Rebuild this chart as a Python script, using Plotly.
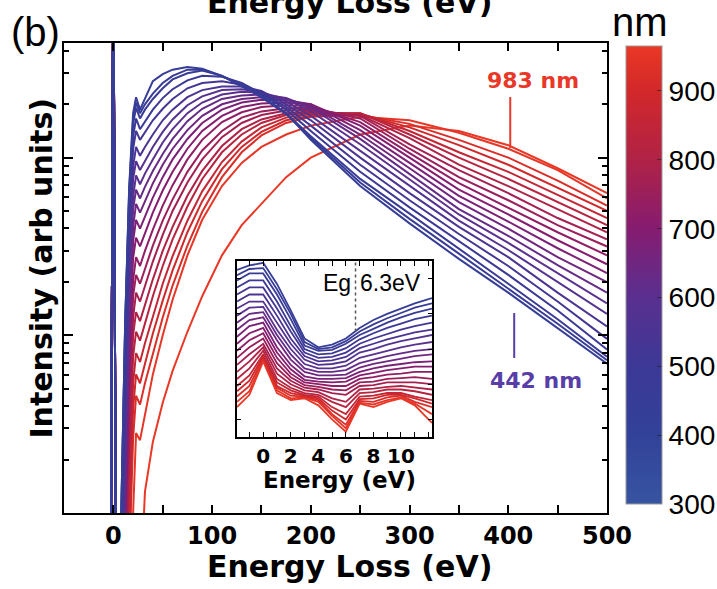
import plotly.graph_objects as go
from plotly.colors import sample_colorscale

# ---------------- data ----------------
wavelengths_nm = [442, 458, 474, 500, 525, 550, 575, 600, 625, 650, 675,
                  700, 725, 750, 775, 800, 825, 860, 895, 925, 955, 983]

# main panel: energy-loss grid (eV) and log10 intensity (arb units) per wavelength
zlp_energy_ev = [-3, 0, 3]
zlp_log_intensity = [-2.0, 2.3, -2.0]
energy_loss_ev = [8, 12, 16, 20, 23, 27, 32, 40, 50, 60, 75, 90, 110, 130,
                  150, 175, 200, 250, 300, 350, 400, 450, 500]

log_int_442 = [-1.0, 0.08, 0.83, 1.25, 1.34, 1.27, 1.33, 1.43, 1.47, 1.495, 1.51, 1.50, 1.46, 1.40, 1.35, 1.25, 1.10, 0.84, 0.63, 0.43, 0.24, 0.04, -0.16]
log_int_458 = [-1.0, 0.07, 0.81, 1.22, 1.31, 1.25, 1.30, 1.36, 1.42, 1.46, 1.495, 1.495, 1.46, 1.405, 1.34, 1.245, 1.11, 0.86, 0.655, 0.46, 0.265, 0.065, -0.14]
log_int_474 = [-1.0, 0.06, 0.78, 1.19, 1.28, 1.22, 1.27, 1.33, 1.39, 1.44, 1.475, 1.49, 1.46, 1.41, 1.34, 1.25, 1.12, 0.88, 0.685, 0.49, 0.29, 0.09, -0.12]
log_int_500 = [-1.2, -0.15, 0.67, 1.12, 1.22, 1.16, 1.205, 1.27, 1.335, 1.385, 1.435, 1.46, 1.455, 1.42, 1.36, 1.27, 1.15, 0.92, 0.72, 0.53, 0.34, 0.14, -0.08]
log_int_525 = [-1.2, -0.18, 0.61, 1.05, 1.15, 1.10, 1.145, 1.21, 1.275, 1.33, 1.39, 1.42, 1.43, 1.41, 1.365, 1.285, 1.18, 0.96, 0.76, 0.57, 0.39, 0.19, -0.02]
log_int_550 = [-1.4, -0.41, 0.46, 0.95, 1.06, 1.01, 1.06, 1.13, 1.21, 1.27, 1.34, 1.38, 1.40, 1.40, 1.375, 1.30, 1.21, 1.00, 0.80, 0.61, 0.44, 0.24, 0.05]
log_int_575 = [-1.4, -0.44, 0.41, 0.88, 0.98, 0.93, 0.98, 1.06, 1.145, 1.215, 1.295, 1.345, 1.38, 1.385, 1.37, 1.315, 1.235, 1.04, 0.84, 0.645, 0.48, 0.30, 0.12]
log_int_600 = [-1.6, -0.70, 0.25, 0.78, 0.90, 0.85, 0.91, 0.99, 1.085, 1.16, 1.25, 1.31, 1.355, 1.37, 1.365, 1.33, 1.26, 1.075, 0.875, 0.68, 0.52, 0.35, 0.18]
log_int_625 = [-1.6, -0.71, 0.20, 0.71, 0.82, 0.77, 0.835, 0.925, 1.02, 1.105, 1.205, 1.275, 1.33, 1.35, 1.355, 1.335, 1.28, 1.105, 0.905, 0.71, 0.56, 0.395, 0.24]
log_int_650 = [-1.8, -1.0, 0.035, 0.61, 0.74, 0.69, 0.755, 0.855, 0.96, 1.05, 1.155, 1.235, 1.30, 1.33, 1.34, 1.33, 1.29, 1.13, 0.94, 0.75, 0.60, 0.44, 0.30]
log_int_675 = [-1.8, -1.0, -0.02, 0.53, 0.65, 0.60, 0.67, 0.775, 0.89, 0.99, 1.105, 1.195, 1.27, 1.31, 1.325, 1.323, 1.30, 1.155, 0.97, 0.785, 0.64, 0.49, 0.35]
log_int_700 = [-1.8, -1.0, -0.08, 0.435, 0.55, 0.50, 0.575, 0.69, 0.815, 0.92, 1.05, 1.15, 1.235, 1.285, 1.305, 1.31, 1.30, 1.18, 1.00, 0.82, 0.68, 0.535, 0.40]
log_int_725 = [-2.0, -1.2, -0.27, 0.31, 0.44, 0.39, 0.475, 0.595, 0.73, 0.845, 0.99, 1.10, 1.20, 1.255, 1.285, 1.295, 1.29, 1.20, 1.025, 0.856, 0.72, 0.58, 0.45]
log_int_750 = [-2.0, -1.2, -0.32, 0.22, 0.34, 0.29, 0.375, 0.505, 0.645, 0.765, 0.92, 1.04, 1.15, 1.225, 1.26, 1.278, 1.28, 1.22, 1.05, 0.89, 0.76, 0.62, 0.50]
log_int_775 = [-2.0, -1.4, -0.51, 0.10, 0.24, 0.19, 0.28, 0.415, 0.565, 0.70, 0.86, 0.99, 1.115, 1.195, 1.24, 1.265, 1.27, 1.235, 1.075, 0.93, 0.80, 0.66, 0.54]
log_int_800 = [-2.0, -1.4, -0.55, 0.0, 0.13, 0.08, 0.175, 0.315, 0.475, 0.61, 0.785, 0.925, 1.065, 1.16, 1.215, 1.25, 1.26, 1.24, 1.11, 0.96, 0.84, 0.71, 0.58]
log_int_825 = [-2.0, -1.6, -0.76, -0.12, 0.02, -0.03, 0.07, 0.22, 0.39, 0.54, 0.725, 0.88, 1.03, 1.13, 1.195, 1.24, 1.253, 1.25, 1.13, 1.00, 0.88, 0.75, 0.62]
log_int_860 = [-2.0, -1.8, -1.0, -0.27, -0.10, -0.15, -0.045, 0.11, 0.29, 0.445, 0.645, 0.81, 0.975, 1.09, 1.17, 1.225, 1.245, 1.25, 1.15, 1.03, 0.92, 0.79, 0.66]
log_int_895 = [-2.0, -1.8, -1.15, -0.415, -0.22, -0.27, -0.16, 0.01, 0.195, 0.365, 0.58, 0.755, 0.935, 1.06, 1.145, 1.21, 1.235, 1.245, 1.17, 1.07, 0.96, 0.83, 0.70]
log_int_925 = [-2.0, -2.0, -1.3, -0.58, -0.34, -0.39, -0.27, -0.10, 0.10, 0.28, 0.505, 0.695, 0.89, 1.03, 1.125, 1.195, 1.23, 1.24, 1.19, 1.10, 1.00, 0.87, 0.73]
log_int_955 = [-2.0, -2.0, -1.6, -1.0, -0.55, -0.59, -0.45, -0.22, 0.0, 0.20, 0.45, 0.65, 0.84, 0.97, 1.06, 1.13, 1.18, 1.23, 1.21, 1.14, 1.05, 0.93, 0.77]
log_int_983 = [-2.5, -2.5, -2.5, -2.5, -2.5, -1.5, -0.88, -0.60, -0.38, -0.20, 0.02, 0.22, 0.45, 0.62, 0.74, 0.89, 1.00, 1.13, 1.18, 1.15, 1.07, 0.94, 0.80]

# inset: low-loss region, energy (eV) and stacked intensity (arb units)
inset_energy_ev = [-1.9, -1, 0, 1, 2, 3, 4, 5, 6, 7, 8, 9, 10, 11, 12.25]

inset_442 = [0.95, 0.975, 0.99, 0.87, 0.72, 0.56, 0.51, 0.525, 0.56, 0.62, 0.665, 0.70, 0.73, 0.76, 0.79]
inset_458 = [0.92, 0.955, 0.96, 0.84, 0.70, 0.54, 0.50, 0.51, 0.545, 0.60, 0.64, 0.675, 0.705, 0.735, 0.76]
inset_474 = [0.89, 0.93, 0.93, 0.81, 0.67, 0.52, 0.49, 0.495, 0.53, 0.58, 0.615, 0.65, 0.68, 0.705, 0.73]
inset_500 = [0.85, 0.89, 0.89, 0.77, 0.63, 0.50, 0.47, 0.475, 0.505, 0.555, 0.59, 0.62, 0.645, 0.67, 0.69]
inset_525 = [0.81, 0.85, 0.85, 0.73, 0.60, 0.48, 0.45, 0.455, 0.48, 0.53, 0.56, 0.585, 0.61, 0.63, 0.65]
inset_550 = [0.77, 0.81, 0.81, 0.69, 0.56, 0.46, 0.43, 0.435, 0.455, 0.505, 0.53, 0.555, 0.575, 0.595, 0.61]
inset_575 = [0.73, 0.77, 0.77, 0.65, 0.53, 0.44, 0.41, 0.415, 0.43, 0.48, 0.50, 0.525, 0.545, 0.56, 0.58]
inset_600 = [0.69, 0.735, 0.74, 0.61, 0.50, 0.415, 0.39, 0.39, 0.405, 0.45, 0.47, 0.49, 0.51, 0.525, 0.54]
inset_625 = [0.65, 0.70, 0.71, 0.58, 0.47, 0.39, 0.37, 0.37, 0.38, 0.42, 0.44, 0.46, 0.475, 0.49, 0.50]
inset_650 = [0.61, 0.665, 0.68, 0.55, 0.44, 0.37, 0.35, 0.35, 0.355, 0.395, 0.415, 0.43, 0.445, 0.46, 0.47]
inset_675 = [0.57, 0.63, 0.65, 0.51, 0.41, 0.345, 0.33, 0.33, 0.335, 0.37, 0.39, 0.405, 0.415, 0.425, 0.43]
inset_700 = [0.53, 0.59, 0.62, 0.48, 0.385, 0.325, 0.315, 0.31, 0.315, 0.35, 0.365, 0.38, 0.39, 0.40, 0.40]
inset_725 = [0.49, 0.55, 0.59, 0.45, 0.36, 0.31, 0.30, 0.29, 0.29, 0.33, 0.34, 0.355, 0.36, 0.37, 0.37]
inset_750 = [0.45, 0.51, 0.56, 0.42, 0.34, 0.295, 0.285, 0.27, 0.265, 0.31, 0.315, 0.33, 0.335, 0.34, 0.33]
inset_775 = [0.41, 0.47, 0.53, 0.39, 0.32, 0.28, 0.27, 0.25, 0.24, 0.29, 0.295, 0.31, 0.31, 0.31, 0.30]
inset_800 = [0.37, 0.43, 0.51, 0.36, 0.30, 0.265, 0.255, 0.22, 0.20, 0.27, 0.275, 0.285, 0.29, 0.28, 0.27]
inset_825 = [0.33, 0.39, 0.49, 0.33, 0.28, 0.25, 0.24, 0.20, 0.17, 0.25, 0.255, 0.27, 0.27, 0.26, 0.24]
inset_860 = [0.29, 0.35, 0.47, 0.31, 0.265, 0.24, 0.23, 0.17, 0.13, 0.23, 0.235, 0.25, 0.25, 0.23, 0.21]
inset_895 = [0.26, 0.32, 0.46, 0.29, 0.25, 0.235, 0.22, 0.15, 0.10, 0.215, 0.22, 0.24, 0.24, 0.22, 0.19]
inset_925 = [0.23, 0.29, 0.45, 0.28, 0.235, 0.23, 0.21, 0.13, 0.07, 0.205, 0.20, 0.225, 0.235, 0.20, 0.17]
inset_955 = [0.20, 0.26, 0.44, 0.265, 0.22, 0.225, 0.20, 0.12, 0.05, 0.195, 0.185, 0.21, 0.225, 0.19, 0.13]
inset_983 = [0.17, 0.24, 0.43, 0.25, 0.21, 0.22, 0.18, 0.10, 0.03, 0.19, 0.17, 0.20, 0.22, 0.18, 0.08]

main_series = [log_int_442, log_int_458, log_int_474, log_int_500, log_int_525, log_int_550,
               log_int_575, log_int_600, log_int_625, log_int_650, log_int_675, log_int_700,
               log_int_725, log_int_750, log_int_775, log_int_800, log_int_825, log_int_860,
               log_int_895, log_int_925, log_int_955, log_int_983]
inset_series = [inset_442, inset_458, inset_474, inset_500, inset_525, inset_550,
                inset_575, inset_600, inset_625, inset_650, inset_675, inset_700,
                inset_725, inset_750, inset_775, inset_800, inset_825, inset_860,
                inset_895, inset_925, inset_955, inset_983]

energy_ticks_ev = [0, 100, 200, 300, 400, 500]
energy_minor_ev = [50, 150, 250, 350, 450]
intensity_major = [0.1, 1, 10]
intensity_minor = [0.2, 0.3, 0.4, 0.5, 0.6, 0.7, 0.8, 0.9, 2, 3, 4, 5, 6, 7, 8, 9, 20, 30, 40]
inset_ticks_ev = [0, 2, 4, 6, 8, 10]
inset_minor_ev = [-1, 1, 3, 5, 7, 9, 11, 12]
colorbar_ticks_nm = [300, 400, 500, 600, 700, 800, 900]
cbar_min_nm, cbar_max_nm = 300, 965
band_gap_label = "6.3eV"
band_gap_line_ev = 6.7

# ---------------- style ----------------
colorscale = [[0.0, "rgb(55,84,162)"], [0.150, "rgb(50,66,152)"], [0.301, "rgb(60,56,150)"],
              [0.451, "rgb(90,48,144)"], [0.602, "rgb(134,28,112)"], [0.752, "rgb(176,34,70)"],
              [0.902, "rgb(210,40,42)"], [1.0, "rgb(234,56,38)"]]

BOLD = "DejaVu Sans"
REG = "Liberation Sans, Arial"


def line_color(wl):
    t = (wl - cbar_min_nm) / (cbar_max_nm - cbar_min_nm)
    t = max(0.0, min(1.0, t))
    return sample_colorscale(colorscale, [t])[0]


fig = go.Figure()

# draw red first, blue last
order = list(range(len(wavelengths_nm)))[::-1]
for i in order:
    wl = wavelengths_nm[i]
    col = line_color(wl)
    xs = zlp_energy_ev + energy_loss_ev
    ys = [10 ** v for v in (zlp_log_intensity + main_series[i])]
    fig.add_trace(go.Scatter(x=xs, y=ys, mode="lines", line=dict(color=col, width=2),
                             xaxis="x", yaxis="y", showlegend=False, hoverinfo="skip"))

for i in order:
    wl = wavelengths_nm[i]
    col = line_color(wl)
    fig.add_trace(go.Scatter(x=inset_energy_ev, y=inset_series[i], mode="lines",
                             line=dict(color=col, width=1.8), xaxis="x2", yaxis="y2",
                             showlegend=False, hoverinfo="skip"))

# colorbar carrier
fig.add_trace(go.Scatter(
    x=[None], y=[None], mode="markers", xaxis="x", yaxis="y", showlegend=False, hoverinfo="skip",
    marker=dict(color=[cbar_min_nm], cmin=cbar_min_nm, cmax=cbar_max_nm, colorscale=colorscale,
                showscale=True,
                colorbar=dict(x=1.035, xanchor="left", y=0.506, yanchor="middle",
                              len=0.974, lenmode="fraction", thickness=36, thicknessmode="pixels",
                              xpad=0, ypad=0, outlinewidth=1, outlinecolor="#9a9a9a",
                              tickvals=colorbar_ticks_nm, ticktext=[str(v) for v in colorbar_ticks_nm],
                              ticks="inside", ticklen=5, tickcolor="rgba(30,30,30,0.6)",
                              tickfont=dict(family=REG, size=28, color="black")))))

axis_common = dict(showgrid=False, zeroline=False, showline=True, linecolor="black",
                   mirror="ticks", ticks="inside", tickcolor="black")

fig.update_layout(
    width=717, height=589,
    margin=dict(l=64, r=110, t=43, b=76, autoexpand=False),
    paper_bgcolor="white", plot_bgcolor="white", showlegend=False,
    xaxis=dict(domain=[0, 1], range=[-50, 500], tickvals=energy_ticks_ev, ticklen=8, tickwidth=2,
               linewidth=2, tickfont=dict(family=BOLD, size=24, color="black", weight="bold"),
               minor=dict(tickvals=energy_minor_ev, ticks="inside", ticklen=8, tickwidth=2,
                          tickcolor="black"),
               **axis_common),
    yaxis=dict(domain=[0, 1], type="log", range=[-1, 1.645], tickvals=intensity_major,
               showticklabels=False, ticklen=9, tickwidth=2, linewidth=2,
               minor=dict(tickvals=intensity_minor, ticks="inside", ticklen=5, tickwidth=1.5,
                          tickcolor="black"),
               **axis_common),
    xaxis2=dict(domain=[0.3186, 0.6777], anchor="y2", range=[-1.9, 12.25], tickvals=inset_ticks_ev,
                ticklen=5, tickwidth=1.3, linewidth=1.5,
                tickfont=dict(family=BOLD, size=20, color="black", weight="bold"),
                minor=dict(tickvals=inset_minor_ev, ticks="inside", ticklen=5, tickwidth=1.3,
                           tickcolor="black"),
                **axis_common),
    yaxis2=dict(domain=[0.1617, 0.536], anchor="x2", range=[0, 1],
                tickvals=[0.1, 0.3, 0.5, 0.7, 0.9], showticklabels=False, ticklen=4, tickwidth=1.3,
                linewidth=1.5, **axis_common),
)


def note(text, x, y, xref="paper", yref="paper", family=REG, size=20, color="black",
         bold=False, xanchor="center", yanchor="middle", angle=0):
    font = dict(family=family, size=size, color=color)
    if bold:
        font["weight"] = "bold"
    return dict(text=text, x=x, y=y, xref=xref, yref=yref, showarrow=False, font=font,
                xanchor=xanchor, yanchor=yanchor, textangle=angle)


annotations = [
    note("983 nm", 425, 0.921, xref="x", family=BOLD, size=22, color="rgb(234,56,40)", bold=True),
    note("442 nm", 428, 0.281, xref="x", family=BOLD, size=22, color="rgb(88,62,168)", bold=True),
    note("Eg", band_gap_line_ev - 0.15, 0.875, xref="x2", yref="y2", size=23, xanchor="right"),
    note(band_gap_label, band_gap_line_ev + 0.15, 0.875, xref="x2", yref="y2", size=23,
         xanchor="left"),
    note("Energy (eV)", 0.508, 0.0700, family=BOLD, size=23, bold=True),
    note("Energy Loss (eV)", 0.526, -0.1138, family=BOLD, size=30, bold=True),
    note("Intensity (arb units)", -0.0405, 0.520, family=BOLD, size=30, bold=True, angle=-90),
    note("(b)", -0.0534, 1.0234, size=40),
    note("nm", 1.0608, 1.0450, size=40),
    note("Energy Loss (eV)", 0.526, 1.0862, family=BOLD, size=30, bold=True),
]
fig.update_layout(annotations=annotations)

fig.update_layout(shapes=[
    dict(type="line", xref="x", yref="paper", x0=402, x1=402, y0=0.885, y1=0.7766,
         line=dict(color="rgb(234,56,40)", width=2)),
    dict(type="line", xref="x", yref="paper", x0=406, x1=406, y0=0.4255, y1=0.3298,
         line=dict(color="rgb(88,62,168)", width=2)),
    dict(type="line", xref="x2", yref="y2", x0=band_gap_line_ev, x1=band_gap_line_ev,
         y0=0.6, y1=1.0, line=dict(color="#555555", width=1.5, dash="dot")),
])

fig.write_html("out.html", config={"displayModeBar": False},
               post_script="document.body.style.margin='0';document.body.style.padding='0';"
                           "document.body.style.overflow='hidden';")
